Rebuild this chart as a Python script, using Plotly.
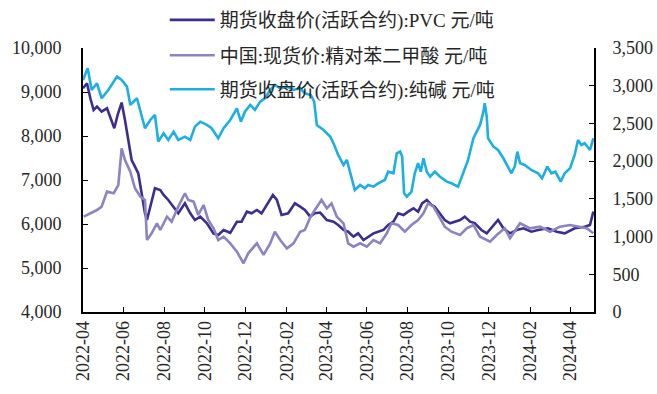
import plotly.graph_objects as go

# 期货收盘价(活跃合约):纯碱  (right axis)
soda_dates = [
    "2022-04-01", "2022-04-08", "2022-04-14", "2022-04-22", "2022-04-29", "2022-05-09",
    "2022-05-22", "2022-05-29", "2022-06-06", "2022-06-11", "2022-06-21", "2022-06-26",
    "2022-07-03", "2022-07-11", "2022-07-18", "2022-07-23", "2022-07-31", "2022-08-07",
    "2022-08-15", "2022-08-22", "2022-09-01", "2022-09-09", "2022-09-16", "2022-09-24",
    "2022-10-04", "2022-10-11", "2022-10-21", "2022-10-29", "2022-11-08", "2022-11-18",
    "2022-11-24", "2022-11-30", "2022-12-08", "2022-12-15", "2022-12-23", "2022-12-30",
    "2023-01-07", "2023-01-14", "2023-01-22", "2023-02-01", "2023-02-11", "2023-02-21",
    "2023-02-28", "2023-03-09", "2023-03-14", "2023-03-18", "2023-03-28", "2023-04-07",
    "2023-04-12", "2023-04-19", "2023-04-27", "2023-05-02", "2023-05-09", "2023-05-14",
    "2023-05-22", "2023-05-29", "2023-06-03", "2023-06-11", "2023-06-18", "2023-06-28",
    "2023-07-03", "2023-07-11", "2023-07-16", "2023-07-21", "2023-07-24", "2023-07-27",
    "2023-07-31", "2023-08-07", "2023-08-12", "2023-08-17", "2023-08-21", "2023-08-25",
    "2023-08-30", "2023-09-04", "2023-09-11", "2023-09-19", "2023-09-29", "2023-10-06",
    "2023-10-16", "2023-10-24", "2023-10-31", "2023-11-08", "2023-11-18", "2023-11-23",
    "2023-11-25", "2023-11-28", "2023-11-30", "2023-12-08", "2023-12-15", "2023-12-23",
    "2023-12-30", "2024-01-04", "2024-01-09", "2024-01-13", "2024-01-17", "2024-01-24",
    "2024-02-03", "2024-02-13", "2024-02-19", "2024-02-27", "2024-03-04", "2024-03-10",
    "2024-03-18", "2024-03-24", "2024-04-01", "2024-04-08", "2024-04-13", "2024-04-18",
    "2024-04-23", "2024-05-01", "2024-05-06",
]
soda_values = [
    3076, 3231, 2944, 3032, 2834, 2944,
    3120, 3076, 2988, 2745, 2834, 2656,
    2436, 2546, 2612, 2258, 2370, 2281,
    2391, 2281, 2325, 2281, 2457, 2523,
    2480, 2436, 2303, 2436, 2546, 2701,
    2523, 2656, 2745, 2679, 2789, 2834,
    2944, 3010, 2966, 2988, 2944, 2966,
    2900, 2877, 2789, 2480, 2413, 2325,
    2237, 2082, 1949, 2016, 1794, 1618,
    1684, 1640, 1684, 1662, 1706, 1750,
    1860, 1839, 2104, 2126, 2060, 1574,
    1529, 1596, 1839, 1972, 1860, 2038,
    1860, 1794, 1860, 1794, 1728, 1706,
    1662, 1839, 2016, 2303, 2480, 2656,
    2767, 2590, 2303, 2192, 2148, 2038,
    1927, 1839, 1927, 2126, 1972, 1949,
    1883, 1839, 1773, 1927, 1839, 1860,
    1728, 1839, 1905, 2082, 2281, 2214,
    2237, 2148, 2303,
]

# 期货收盘价(活跃合约):PVC  (left axis)
pvc_dates = [
    "2022-04-01", "2022-04-07", "2022-04-12", "2022-04-17", "2022-04-22", "2022-04-29",
    "2022-05-07", "2022-05-12", "2022-05-18", "2022-05-23", "2022-05-29", "2022-06-03",
    "2022-06-08", "2022-06-13", "2022-06-18", "2022-06-23", "2022-06-28", "2022-07-03",
    "2022-07-06", "2022-07-11", "2022-07-18", "2022-07-26", "2022-07-31", "2022-08-07",
    "2022-08-15", "2022-08-22", "2022-09-01", "2022-09-09", "2022-09-16", "2022-09-24",
    "2022-10-04", "2022-10-14", "2022-10-21", "2022-10-29", "2022-11-08", "2022-11-18",
    "2022-11-25", "2022-12-03", "2022-12-10", "2022-12-18", "2022-12-25", "2023-01-02",
    "2023-01-11", "2023-01-17", "2023-01-24", "2023-02-03", "2023-02-13", "2023-02-21",
    "2023-02-28", "2023-03-08", "2023-03-15", "2023-03-23", "2023-04-02", "2023-04-12",
    "2023-04-19", "2023-04-27", "2023-05-04", "2023-05-12", "2023-05-19", "2023-05-27",
    "2023-06-03", "2023-06-11", "2023-06-18", "2023-06-26", "2023-07-03", "2023-07-11",
    "2023-07-18", "2023-07-26", "2023-08-02", "2023-08-10", "2023-08-17", "2023-08-23",
    "2023-08-30", "2023-09-06", "2023-09-11", "2023-09-19", "2023-09-26", "2023-10-04",
    "2023-10-11", "2023-10-19", "2023-10-26", "2023-11-03", "2023-11-10", "2023-11-20",
    "2023-11-28", "2023-12-08", "2023-12-15", "2023-12-23", "2024-01-02", "2024-01-12",
    "2024-01-22", "2024-02-03", "2024-02-13", "2024-02-28", "2024-03-12", "2024-03-24",
    "2024-04-08", "2024-04-23", "2024-05-01", "2024-05-06",
]
pvc_values = [
    9085, 9198, 8857, 8591, 8667, 8553,
    8630, 8439, 8175, 8478, 8760, 8364,
    7910, 7455, 7303, 7152, 6698, 6243,
    6091, 6394, 6812, 6773, 6659, 6546,
    6394, 6243, 6470, 6243, 6091, 6167,
    6016, 5780, 5750, 5864, 5800, 6050,
    6053, 6280, 6243, 6318, 6243, 6432,
    6659, 6546, 6205, 6243, 6470, 6394,
    6318, 6167, 6243, 6260, 6091, 6053,
    5978, 5864, 5825, 5712, 5788, 5636,
    5712, 5788, 5825, 5864, 5978, 6053,
    6243, 6205, 6280, 6357, 6280, 6470,
    6546, 6432, 6394, 6243, 6091, 6016,
    6053, 6091, 6167, 6053, 6020, 5864,
    5788, 5978, 6091, 5902, 5788, 5864,
    5902, 5825, 5864, 5902, 5825, 5788,
    5902, 5939, 5978, 6280,
]

# 中国:现货价:精对苯二甲酸  (left axis)
pta_dates = [
    "2022-04-02", "2022-04-12", "2022-04-22", "2022-04-29", "2022-05-07", "2022-05-17",
    "2022-05-24", "2022-05-29", "2022-06-03", "2022-06-11", "2022-06-18", "2022-06-26",
    "2022-07-03", "2022-07-06", "2022-07-13", "2022-07-21", "2022-07-26", "2022-08-05",
    "2022-08-12", "2022-08-22", "2022-09-01", "2022-09-06", "2022-09-14", "2022-09-21",
    "2022-09-29", "2022-10-06", "2022-10-14", "2022-10-21", "2022-10-29", "2022-11-08",
    "2022-11-18", "2022-11-28", "2022-12-05", "2022-12-18", "2022-12-28", "2023-01-07",
    "2023-01-14", "2023-01-22", "2023-02-01", "2023-02-11", "2023-02-21", "2023-02-28",
    "2023-03-08", "2023-03-15", "2023-03-25", "2023-04-02", "2023-04-09", "2023-04-17",
    "2023-04-27", "2023-05-04", "2023-05-12", "2023-05-22", "2023-06-01", "2023-06-11",
    "2023-06-21", "2023-07-01", "2023-07-08", "2023-07-18", "2023-07-28", "2023-08-07",
    "2023-08-17", "2023-08-25", "2023-09-01", "2023-09-09", "2023-09-16", "2023-09-26",
    "2023-10-06", "2023-10-19", "2023-10-29", "2023-11-08", "2023-11-18", "2023-11-28",
    "2023-12-03", "2023-12-13", "2023-12-25", "2024-01-02", "2024-01-17", "2024-02-01",
    "2024-02-16", "2024-03-02", "2024-03-17", "2024-04-01", "2024-04-16", "2024-04-26",
    "2024-05-06",
]
pta_values = [
    6167, 6243, 6318, 6394, 6735, 6698,
    6886, 7720, 7455, 7190, 6812, 6621,
    6546, 5636, 5788, 6016, 5864, 6167,
    6053, 6394, 6698, 6546, 6508, 6205,
    6432, 6091, 5902, 5636, 5712, 5561,
    5371, 5107, 5334, 5561, 5296, 5561,
    5825, 5636, 5447, 5561, 5825, 5864,
    6150, 6318, 6546, 6357, 6470, 6167,
    6016, 5561, 5484, 5561, 5484, 5636,
    5561, 5788, 6016, 5978, 5825, 5978,
    6091, 6243, 6470, 6394, 6205, 5939,
    5825, 5750, 5902, 5978, 5712, 5636,
    5598, 5750, 5902, 5675, 6016, 5902,
    5939, 5825, 5939, 5978, 5939, 5902,
    5788,
]

left_ticks = [4000, 5000, 6000, 7000, 8000, 9000, 10000]
right_ticks = [0, 500, 1000, 1500, 2000, 2500, 3000, 3500]

FONT = "Liberation Serif, Times New Roman, Noto Sans CJK SC, serif"
TEXT = "#262626"

fig = go.Figure()
fig.add_trace(go.Scatter(
    x=pvc_dates, y=pvc_values, mode="lines", name="期货收盘价(活跃合约):PVC 元/吨",
    line=dict(color="#3D2E8E", width=2.6), yaxis="y", legend="legend",
))
fig.add_trace(go.Scatter(
    x=pta_dates, y=pta_values, mode="lines", name="中国:现货价:精对苯二甲酸 元/吨",
    line=dict(color="#8C84C0", width=2.6), yaxis="y", legend="legend2",
))
fig.add_trace(go.Scatter(
    x=soda_dates, y=soda_values, mode="lines", name="期货收盘价(活跃合约):纯碱 元/吨",
    line=dict(color="#1DAFE3", width=2.6), yaxis="y2", legend="legend3",
))

# one legend box per series, stacked above the plot
legend_style = dict(
    x=0.16, xanchor="left", yanchor="middle",
    bgcolor="rgba(0,0,0,0)", font=dict(size=19, color=TEXT), itemwidth=45,
)

fig.update_layout(
    width=657, height=394,
    margin=dict(l=83, r=63, t=48, b=82, autoexpand=False),
    paper_bgcolor="white", plot_bgcolor="white",
    font=dict(family=FONT, size=18, color=TEXT),
    showlegend=True,
    legend=dict(y=1.106, **legend_style),
    legend2=dict(y=0.972, **legend_style),
    legend3=dict(y=0.843, **legend_style),
    xaxis=dict(
        type="date", range=["2022-04-01", "2024-05-07"],
        tick0="2022-04-01", dtick="M2", tickformat="%Y-%m", tickangle=-90,
        ticks="inside", ticklen=5, tickwidth=1.3, tickcolor="black",
        showline=True, linecolor="black", linewidth=1.6,
        showgrid=False, zeroline=False,
        tickfont=dict(family=FONT, size=18, color=TEXT),
    ),
    yaxis=dict(
        range=[4000, 10000], tickvals=left_ticks, tickformat=",d",
        ticks="inside", ticklen=5, tickwidth=1.3, tickcolor="black",
        showline=True, linecolor="black", linewidth=1.6,
        showgrid=False, zeroline=False, ticklabelstandoff=16,
        tickfont=dict(family=FONT, size=18, color=TEXT),
    ),
    yaxis2=dict(
        range=[0, 3500], tickvals=right_ticks, tickformat=",d",
        overlaying="y", side="right",
        ticks="inside", ticklen=5, tickwidth=1.3, tickcolor="black",
        showline=True, linecolor="black", linewidth=1.6,
        showgrid=False, zeroline=False, ticklabelstandoff=13,
        tickfont=dict(family=FONT, size=18, color=TEXT),
    ),
)

fig.write_html("out.html")
